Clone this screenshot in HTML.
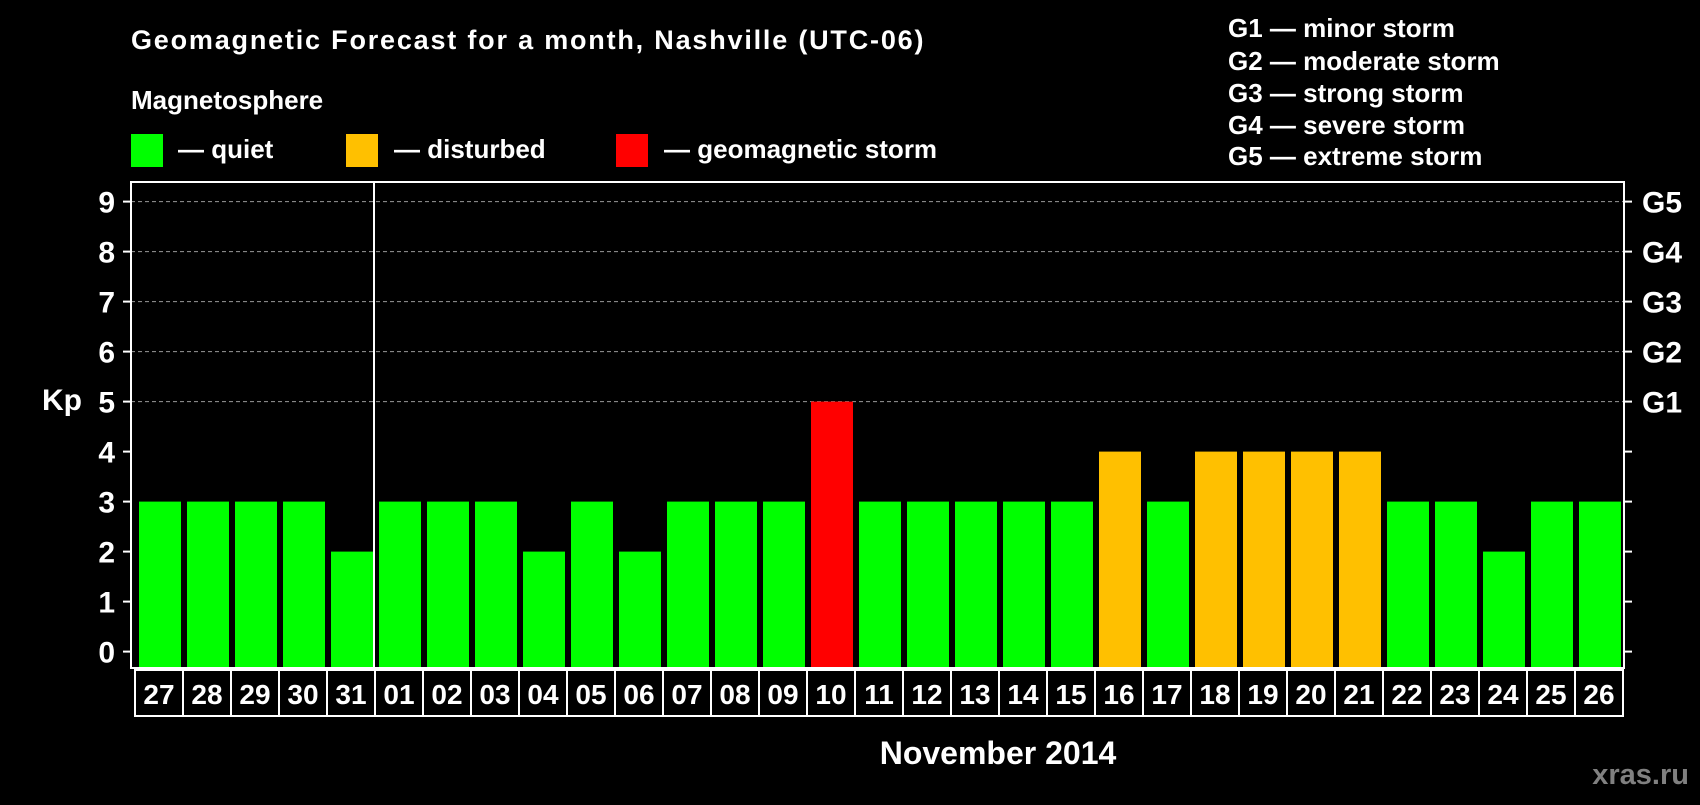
<!DOCTYPE html>
<html><head><meta charset="utf-8"><style>
body{margin:0;background:#000;width:1700px;height:800px;overflow:hidden;font-family:"Liberation Sans",sans-serif}
text{font-family:"Liberation Sans",sans-serif;font-weight:bold;fill:#fff}
</style></head><body>
<svg id="c" width="1700" height="800">
<text x="131" y="49" font-size="27" letter-spacing="1.8">Geomagnetic Forecast for a month, Nashville (UTC-06)</text>
<text x="131" y="109" font-size="26">Magnetosphere</text>
<rect x="131" y="134" width="32" height="33" fill="#00ff00"/>
<text x="178" y="158" font-size="26">— quiet</text>
<rect x="346" y="134" width="32" height="33" fill="#ffc000"/>
<text x="394" y="158" font-size="26">— disturbed</text>
<rect x="616" y="134" width="32" height="33" fill="#ff0000"/>
<text x="664" y="158" font-size="26">— geomagnetic storm</text>
<g font-size="26">
<text x="1228" y="37">G1 — minor storm</text>
<text x="1228" y="70">G2 — moderate storm</text>
<text x="1228" y="102">G3 — strong storm</text>
<text x="1228" y="134">G4 — severe storm</text>
<text x="1228" y="165">G5 — extreme storm</text>
</g>
<text x="42" y="410" font-size="30">Kp</text>
<text x="998" y="764" font-size="32" text-anchor="middle">November 2014</text>
<text x="1689" y="784" font-size="29" text-anchor="end" style="fill:#808080">xras.ru</text>
<g id="plot"></g>
</svg>
<script>
const days=["27","28","29","30","31","01","02","03","04","05","06","07","08","09","10","11","12","13","14","15","16","17","18","19","20","21","22","23","24","25","26"];
const kp=[3,3,3,3,2,3,3,3,2,3,2,3,3,3,5,3,3,3,3,3,4,3,4,4,4,4,3,3,2,3,3];
const yTicks=[0,1,2,3,4,5,6,7,8,9];
const gLabels=[[5,"G1"],[6,"G2"],[7,"G3"],[8,"G4"],[9,"G5"]];
const NS="http://www.w3.org/2000/svg";
const g=document.getElementById('plot');
const L=131,R=1624,T=182,B=668,x0=134,pitch=48;
const y=v=>651.6-v*50;
const x=i=>x0+i*pitch;
function mk(t,a){const e=document.createElementNS(NS,t);for(const k in a)e.setAttribute(k,a[k]);g.appendChild(e);return e;}
yTicks.forEach(v=>{
  if(v>=5){const l=mk('line',{x1:L,x2:R,y1:y(v),y2:y(v),stroke:'#999','stroke-dasharray':'4 3'});
  
  }
  const t1=mk('line',{x1:L-8,x2:L,y1:y(v),y2:y(v),stroke:'#fff','stroke-width':2});
  
  
  const t2=mk('line',{x1:R,x2:R+8,y1:y(v),y2:y(v),stroke:'#fff','stroke-width':2});
  
  
  const tx=mk('text',{x:115,y:y(v)+11,'font-size':30,'text-anchor':'end'});tx.textContent=v;
  
  
});
gLabels.forEach(([v,s])=>{
  const tx=mk('text',{x:1642,y:y(v)+11,'font-size':30});tx.textContent=s;
  
  
});
kp.forEach((v,i)=>{
  const col=v>=5?'#ff0000':v>=4?'#ffc000':'#00ff00';
  const r=mk('rect',{x:x(i)+5,y:y(v),width:42,height:B-y(v)-1,fill:col});
  
  
  const b=mk('rect',{x:x(i)+1,y:670,width:pitch,height:46,fill:'none',stroke:'#fff','stroke-width':2});
  
  
  const tx=mk('text',{x:x(i)+25,y:704,'font-size':28,'text-anchor':'middle'});tx.textContent=days[i];
  
  
});
const f=mk('rect',{x:L,y:T,width:R-L,height:B-T,fill:'none',stroke:'#fff','stroke-width':2});


const sep=mk('line',{x1:x(5),x2:x(5),y1:T,y2:B,stroke:'#fff','stroke-width':2});


</script>
</body></html>
